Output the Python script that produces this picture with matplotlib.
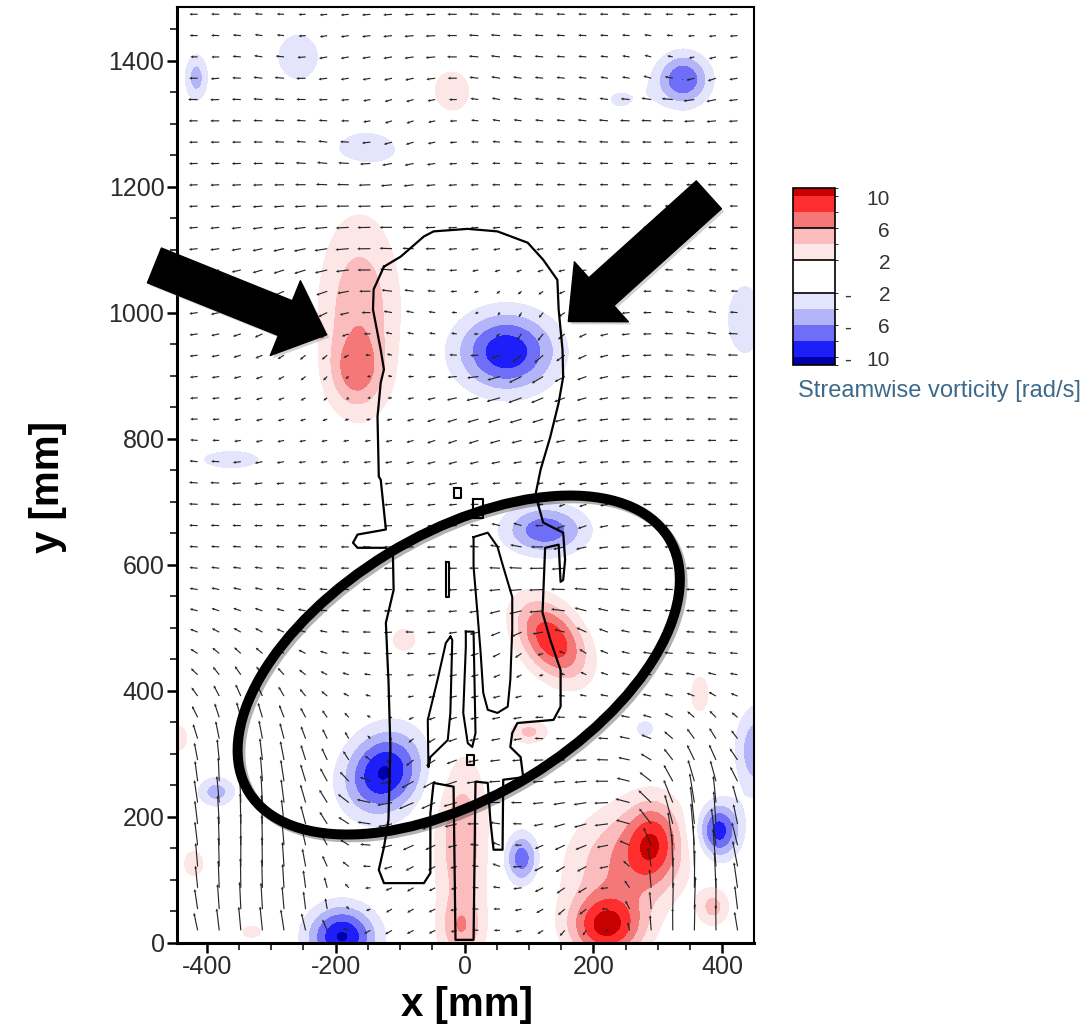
import numpy as np
import matplotlib
matplotlib.use("Agg")
import matplotlib.pyplot as plt
import matplotlib.cm as cm
from matplotlib.colors import ListedColormap, BoundaryNorm
from matplotlib.patches import Ellipse
from matplotlib.ticker import MultipleLocator
from matplotlib.transforms import blended_transform_factory
from matplotlib import patheffects as pe

plt.rcParams["font.family"] = ["Liberation Sans", "DejaVu Sans"]
plt.rcParams["axes.unicode_minus"] = False

# vorticity blobs: centre [mm], peak [rad/s], spread [mm], tilt [deg]
BLOB_X = [339, -416, -258, -150, -20, 241, 435, -362, -163, -168, 65, 125, 135, -94,
          -125, -385, -5, -5, 89, 100, 293, 250, 220, 394, 455, 386, 365, 280, -190,
          -445, -420, -330]
BLOB_Y = [1370, 1373, 1406, 1259, 1350, 1338, 989, 767, 1000, 905, 938, 655, 481, 481,
          270, 240, 160, 20, 134, 335, 160, 130, 25, 178, 305, 57, 395, 340, 10,
          325, 126, 18]
BLOB_W = [-8, -5, -3, -3, 2.3, -2.2, -3, -2.6, 5.5, 4, -9.6, -7.5, 9.6, 4,
          -10.3, -5, 5.5, 4, -7.5, 4.5, 6, 6, 9.5, -9.5, -6, 4.5, 3.5, -3.5, -10.3,
          4, 4, 3]
BLOB_SX = [30, 14, 35, 60, 50, 35, 30, 60, 45, 28, 55, 46, 51, 14,
           50, 22, 30, 25, 20, 22, 28, 70, 40, 24, 25, 18, 12, 13, 38,
           12, 12, 15]
BLOB_SY = [30, 28, 40, 35, 60, 25, 60, 20, 110, 38, 45, 29, 32, 14,
           42, 18, 100, 35, 30, 14, 45, 60, 35, 32, 50, 22, 25, 12, 35,
           16, 16, 10]
BLOB_ANG = [0, 0, 0, 0, 0, 0, 0, 0, 0, 0, 0, 0, -55, 0,
            60, 0, 0, 0, 0, 0, 0, 45, 0, 0, 0, 0, 0, 0, 0,
            0, 0, 0]

# vertical flow zones [mm, m/s]: updraft near the floor, downwash in the plume
ZONE_X = [-345, 370, -10]
ZONE_Y = [150, 120, 930]
ZONE_SX = [90, 60, 90]
ZONE_SY = [170, 120, 130]
ZONE_V = [0.5, 0.55, -0.13]
U_BACKGROUND = -0.13

# measurement grid of the PIV vectors [mm]
VEC_X = np.arange(-414, 445, 33.5)
VEC_Y = np.arange(20, 1480, 33.8)

# plume outline and inner islands [mm]
OUTLINE_X = [-125, -99, -63, -48, 5, 51, 98, 122, 144, 146, 152, 153, 146, 133, 118, 110,
             122, 153, 156, 153, 149, 146, 125, 121, 133, 149, 149, 138, 82, 74, 71, 87,
             91, 60, 59, 45, 40, 36, 17, 14, -14, -17, -48, -53, -53, -63, -125, -133,
             -125, -118, -115, -118, -119, -122, -110, -111, -122, -166, -173, -166, -122,
             -130, -133, -135, -130, -125, -130, -142, -141, -125]
OUTLINE_Y = [1073, 1089, 1121, 1129, 1133, 1129, 1111, 1084, 1052, 1005, 941, 898, 857,
             803, 751, 711, 667, 651, 608, 576, 573, 632, 627, 524, 481, 433, 375, 354,
             349, 333, 311, 295, 263, 259, 148, 148, 195, 254, 256, 5, 5, 248, 254, 206,
             111, 95, 95, 116, 152, 195, 311, 417, 438, 508, 560, 613, 627, 627, 635, 648,
             656, 735, 740, 835, 889, 910, 941, 1005, 1037, 1073]
ISLANDS_X = [
    [14, 36, 51, 60, 74, 74, 71, 67, 51, 36, 29, 25, 20, 14, 14],
    [2, 14, 17, 12, 5, -2, 2, 2],
    [-22, -19, -22, -26, -37, -53, -56, -57, -42, -29, -22],
    [-29, -24, -24, -29, -29],
    [-17, -5, -5, -17, -17],
    [13, 28, 28, 13, 13],
    [4, 14, 14, 4, 4],
]
ISLANDS_Y = [
    [644, 651, 629, 597, 549, 497, 417, 375, 365, 370, 397, 460, 524, 597, 644],
    [494, 494, 333, 311, 317, 365, 470, 494],
    [486, 481, 365, 322, 311, 295, 279, 354, 417, 476, 486],
    [605, 605, 549, 549, 605],
    [722, 722, 706, 706, 722],
    [705, 705, 675, 675, 705],
    [298, 298, 282, 282, 298],
]

CB_BOUNDS = [-11, -10, -8, -6, -4, -2, 2, 4, 6, 8, 10, 11]
FIELD_LEVELS = [-100, -10, -8, -6, -4, -2, 2, 4, 6, 8, 10, 100]
BAND_COLORS = ["#0000aa", "#1e1ef8", "#6e6ef6", "#b4b4f8", "#e4e4fd", "#ffffff",
               "#fde6e6", "#fabcbc", "#f47878", "#ff2e2e", "#c80000"]
CB_TICKS = [10, 6, 2, -2, -6, -10]

XLIM = (-446, 449)
YLIM = (0, 1485)


def vorticity(X, Y):
    W = np.zeros_like(X)
    for x0, y0, w, sx, sy, a in zip(BLOB_X, BLOB_Y, BLOB_W, BLOB_SX, BLOB_SY, BLOB_ANG):
        t = np.deg2rad(a)
        dx, dy = X - x0, Y - y0
        xr = dx * np.cos(t) + dy * np.sin(t)
        yr = -dx * np.sin(t) + dy * np.cos(t)
        W += w * np.exp(-0.5 * ((xr / sx) ** 2 + (yr / sy) ** 2))
    return W


def velocity(X, Y):
    U = np.zeros_like(X, dtype=float)
    V = np.zeros_like(X, dtype=float)
    for x0, y0, w, sx, sy in zip(BLOB_X, BLOB_Y, BLOB_W, BLOB_SX, BLOB_SY):
        r2 = sx * sy
        dx, dy = X - x0, Y - y0
        rho2 = dx ** 2 + dy ** 2 + 1e-6
        # swirl of each blob, kept local
        f = 0.5 * w * r2 * (1 - np.exp(-rho2 / (2 * r2))) / rho2 / 1000.0
        f *= np.exp(-rho2 / (2 * (2.5 ** 2) * r2))
        U += -dy * f
        V += dx * f
    updraft = np.zeros_like(X, dtype=float)
    for x0, y0, sx, sy, v0 in zip(ZONE_X, ZONE_Y, ZONE_SX, ZONE_SY, ZONE_V):
        g = np.exp(-0.5 * (((X - x0) / sx) ** 2 + ((Y - y0) / sy) ** 2))
        V += v0 * g
        if v0 > 0:
            updraft = np.maximum(updraft, g)
    U += U_BACKGROUND * (1 - updraft)
    return U, V


fig = plt.figure(figsize=(10.89, 10.34), dpi=100)
ax = fig.add_axes([177 / 1089, 1 - 943 / 1034, 577 / 1089, 936 / 1034])

xg = np.linspace(XLIM[0], XLIM[1], 450)
yg = np.linspace(YLIM[0], YLIM[1], 750)
XX, YY = np.meshgrid(xg, yg)
ax.contourf(XX, YY, vorticity(XX, YY), levels=FIELD_LEVELS, colors=BAND_COLORS, zorder=1)

QX, QY = np.meshgrid(VEC_X, VEC_Y)
QU, QV = velocity(QX, QY)
ax.quiver(QX, QY, QU, QV, angles="xy", scale_units="xy", scale=0.01,
          width=0.002, headwidth=2.6, headlength=2.6, headaxislength=2.3,
          color="#262626", zorder=2)

ax.plot(OUTLINE_X, OUTLINE_Y, color="black", lw=1.6, zorder=3)
for ix, iy in zip(ISLANDS_X, ISLANDS_Y):
    ax.plot(ix, iy, color="black", lw=1.5, zorder=3)

shadow = [pe.SimplePatchShadow(offset=(2, -2), shadow_rgbFace="0.5", alpha=0.35), pe.Normal()]
ring = Ellipse((-9, 441), width=766, height=416, angle=32, fill=False, lw=7.2,
               ec="black", clip_on=False, zorder=5)
ring.set_path_effects([pe.SimpleLineShadow(offset=(2, -2), alpha=0.3), pe.Normal()])
ax.add_patch(ring)

arrow_style = "simple,head_length=1.6,head_width=2.9,tail_width=1.35"
for tail, tip in [((-481, 1075), (-214, 965)), ((379, 1187), (161, 986))]:
    ann = ax.annotate("", xy=tip, xytext=tail, annotation_clip=False, zorder=6,
                      arrowprops=dict(arrowstyle=arrow_style, mutation_scale=20,
                                      color="black", shrinkA=0, shrinkB=0))
    ann.arrow_patch.set_path_effects(shadow)

ax.set_xlim(*XLIM)
ax.set_ylim(*YLIM)
ax.set_xticks([-400, -200, 0, 200, 400])
ax.set_yticks(np.arange(0, 1401, 200))
ax.xaxis.set_minor_locator(MultipleLocator(50))
ax.yaxis.set_minor_locator(MultipleLocator(50))
ax.tick_params(which="major", direction="out", length=7.5, width=1.8, pad=1.5,
               labelsize=18, labelcolor="#2b2b2b")
ax.tick_params(which="minor", direction="out", length=5, width=1.1)
for side in ["left", "bottom"]:
    ax.spines[side].set_linewidth(2.2)
for side in ["top", "right"]:
    ax.spines[side].set_linewidth(1.5)

fig.text(467 / 1089, 1 - 1005 / 1034, "x [mm]", fontsize=29, fontweight="bold",
         ha="center", va="center")
fig.text(48 / 1089, 1 - 487 / 1034, "y [mm]", fontsize=29, fontweight="bold",
         ha="center", va="center", rotation=90)

# colour bar
cax = fig.add_axes([793 / 1089, 1 - 365 / 1034, 42 / 1089, 177 / 1034])
cmap = ListedColormap(BAND_COLORS)
sm = cm.ScalarMappable(norm=BoundaryNorm(CB_BOUNDS, cmap.N), cmap=cmap)
cb = fig.colorbar(sm, cax=cax, boundaries=CB_BOUNDS, spacing="proportional", ticks=[])
cb.outline.set_linewidth(1.2)
for lv in [6, 2, -2]:
    cax.axhline(lv, color="black", lw=1.2)
trans = blended_transform_factory(cax.transAxes, cax.transData)
for v in CB_TICKS:
    cax.text(2.31, v - 0.4, str(abs(v)), transform=trans, ha="right", va="center",
             fontsize=15, color="#333333")
    if v < 0:
        cax.text(1.29, v - 0.4, "-", transform=trans, ha="center", va="center",
                 fontsize=15, color="#333333")
fig.text(939 / 1089, 1 - 391 / 1034, "Streamwise vorticity [rad/s]", fontsize=17,
         color="#3d6a8a", ha="center", va="center")

fig.savefig("out.png", dpi=100)
